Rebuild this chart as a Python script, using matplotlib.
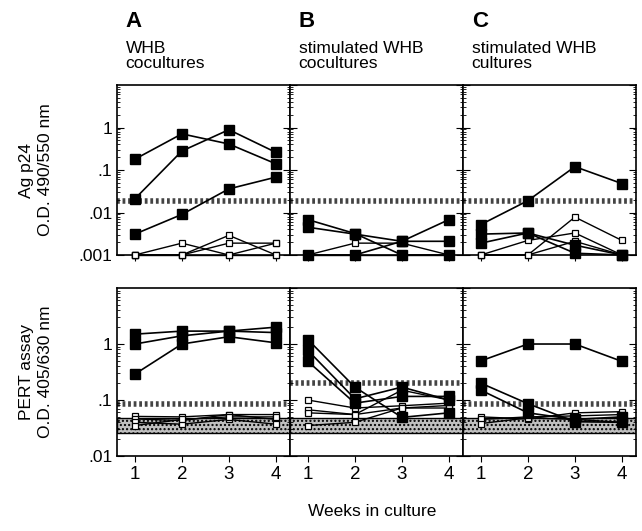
import numpy as np
import matplotlib.pyplot as plt

plt.rcParams['font.family'] = ['Liberation Sans', 'DejaVu Sans']

weeks = [1, 2, 3, 4]
panel_letters = ['A', 'B', 'C']
panel_titles = ['WHB\ncocultures', 'stimulated WHB\ncocultures', 'stimulated WHB\ncultures']

# Ag p24 (top row): filled = positive, open = negative cultures
p24_filled = [
    [[0.18, 0.71, 0.41, 0.14], [0.021, 0.28, 0.89, 0.26], [0.0031, 0.009, 0.036, 0.068]],
    [[0.0068, 0.0032, 0.001, 0.001], [0.0045, 0.0031, 0.0021, 0.0021], [0.001, 0.001, 0.0021, 0.0068]],
    [[0.0052, 0.019, 0.12, 0.048], [0.0031, 0.0033, 0.0011, 0.001], [0.0019, 0.0033, 0.0017, 0.001]],
]
p24_open = [
    [[0.001, 0.0019, 0.001, 0.0019], [0.001, 0.001, 0.0029, 0.001], [0.001, 0.001, 0.0019, 0.0019], [0.001, 0.001, 0.001, 0.001]],
    [[0.001, 0.0019, 0.0019, 0.001], [0.001, 0.001, 0.001, 0.001]],
    [[0.001, 0.0022, 0.0033, 0.001], [0.001, 0.001, 0.0078, 0.0022], [0.001, 0.001, 0.0021, 0.001]],
]
p24_cutoff = [0.019, 0.019, 0.019]

# PERT assay (bottom row)
pert_filled = [
    [[1.5, 1.7, 1.7, 1.6], [1.0, 1.4, 1.7, 2.0], [0.29, 1.0, 1.35, 1.05]],
    [[1.2, 0.17, 0.049, 0.059], [0.77, 0.105, 0.17, 0.1], [0.49, 0.088, 0.116, 0.116]],
    [[0.5, 1.0, 1.0, 0.49], [0.2, 0.086, 0.041, 0.04], [0.15, 0.059, 0.045, 0.05]],
]
pert_open = [
    [[0.051, 0.05, 0.055, 0.055], [0.046, 0.043, 0.055, 0.045], [0.04, 0.037, 0.045, 0.037], [0.035, 0.045, 0.05, 0.05]],
    [[0.1, 0.072, 0.079, 0.088], [0.067, 0.055, 0.15, 0.1], [0.059, 0.055, 0.072, 0.08], [0.035, 0.04, 0.072, 0.072]],
    [[0.05, 0.046, 0.059, 0.062], [0.045, 0.05, 0.052, 0.055], [0.038, 0.048, 0.045, 0.04]],
]
pert_cutoff = [0.085, 0.2, 0.085]
pert_band = (0.026, 0.048)

fig = plt.figure(figsize=(6.42, 5.31), dpi=100)
left, w = 117 / 642, 173 / 642
rows = [(0.5198, 0.320), (0.1412, 0.3164)]

def style_axis(ax, ylim, show_y, show_x):
    ax.set_yscale('log')
    ax.set_ylim(*ylim)
    ax.set_xlim(0.62, 4.3)
    ax.set_xticks(weeks)
    ax.tick_params(axis='x', direction='out', length=4, labelsize=13.5, labelbottom=show_x)
    ax.tick_params(axis='y', which='both', direction='in', left=True, right=True)
    ax.tick_params(axis='y', which='major', length=5, labelsize=12.5, labelleft=show_y)
    ax.tick_params(axis='y', which='minor', length=2.5)
    for s in ax.spines.values():
        s.set_linewidth(1.2)

for i in range(3):
    # top row
    ax = fig.add_axes([left + i * w, rows[0][0], w, rows[0][1]])
    style_axis(ax, (0.001, 10), i == 0, False)
    ax.axhline(p24_cutoff[i], color='#444444', lw=4, ls=(0, (0.5, 0.5)), zorder=1)
    for s in p24_open[i]:
        ax.plot(weeks, s, color='black', lw=1, marker='s', ms=4.5, mfc='white', mec='black', mew=0.9, zorder=3, clip_on=False)
    for s in p24_filled[i]:
        ax.plot(weeks, s, color='black', lw=1.2, marker='s', ms=6.5, mfc='black', mec='black', zorder=4, clip_on=False)
    if i == 0:
        ax.set_yticks([0.001, 0.01, 0.1, 1])
        ax.set_yticklabels(['.001', '.01', '.1', '1'])
    ax.text(0.05, 1.31, panel_letters[i], transform=ax.transAxes, fontsize=16, fontweight='bold', va='bottom')
    ax.text(0.05, 1.08, panel_titles[i], transform=ax.transAxes, fontsize=12.5, va='bottom', linespacing=1.05)

    # bottom row
    ax = fig.add_axes([left + i * w, rows[1][0], w, rows[1][1]])
    style_axis(ax, (0.01, 10), i == 0, True)
    ax.axhspan(pert_band[0], pert_band[1], facecolor='#c0c0c0', edgecolor='black', lw=1, hatch='....', zorder=1)
    ax.axhline(pert_cutoff[i], color='#444444', lw=4, ls=(0, (0.5, 0.5)), zorder=1)
    for s in pert_open[i]:
        ax.plot(weeks, s, color='black', lw=1, marker='s', ms=4.5, mfc='white', mec='black', mew=0.9, zorder=3)
    for s in pert_filled[i]:
        ax.plot(weeks, s, color='black', lw=1.2, marker='s', ms=6.5, mfc='black', mec='black', zorder=4)
    if i == 0:
        ax.set_yticks([0.01, 0.1, 1])
        ax.set_yticklabels(['.01', '.1', '1'])

fig.text(36 / 642, 1 - 170 / 531, 'Ag p24\nO.D. 490/550 nm', rotation=90, ha='center', va='center', fontsize=12.5, linespacing=1.4)
fig.text(36 / 642, 1 - 372 / 531, 'PERT assay\nO.D. 405/630 nm', rotation=90, ha='center', va='center', fontsize=12.5, linespacing=1.4)
fig.text(372 / 642, 1 - 512 / 531, 'Weeks in culture', ha='center', va='center', fontsize=12.5)

fig.savefig('out.png', dpi=100)
